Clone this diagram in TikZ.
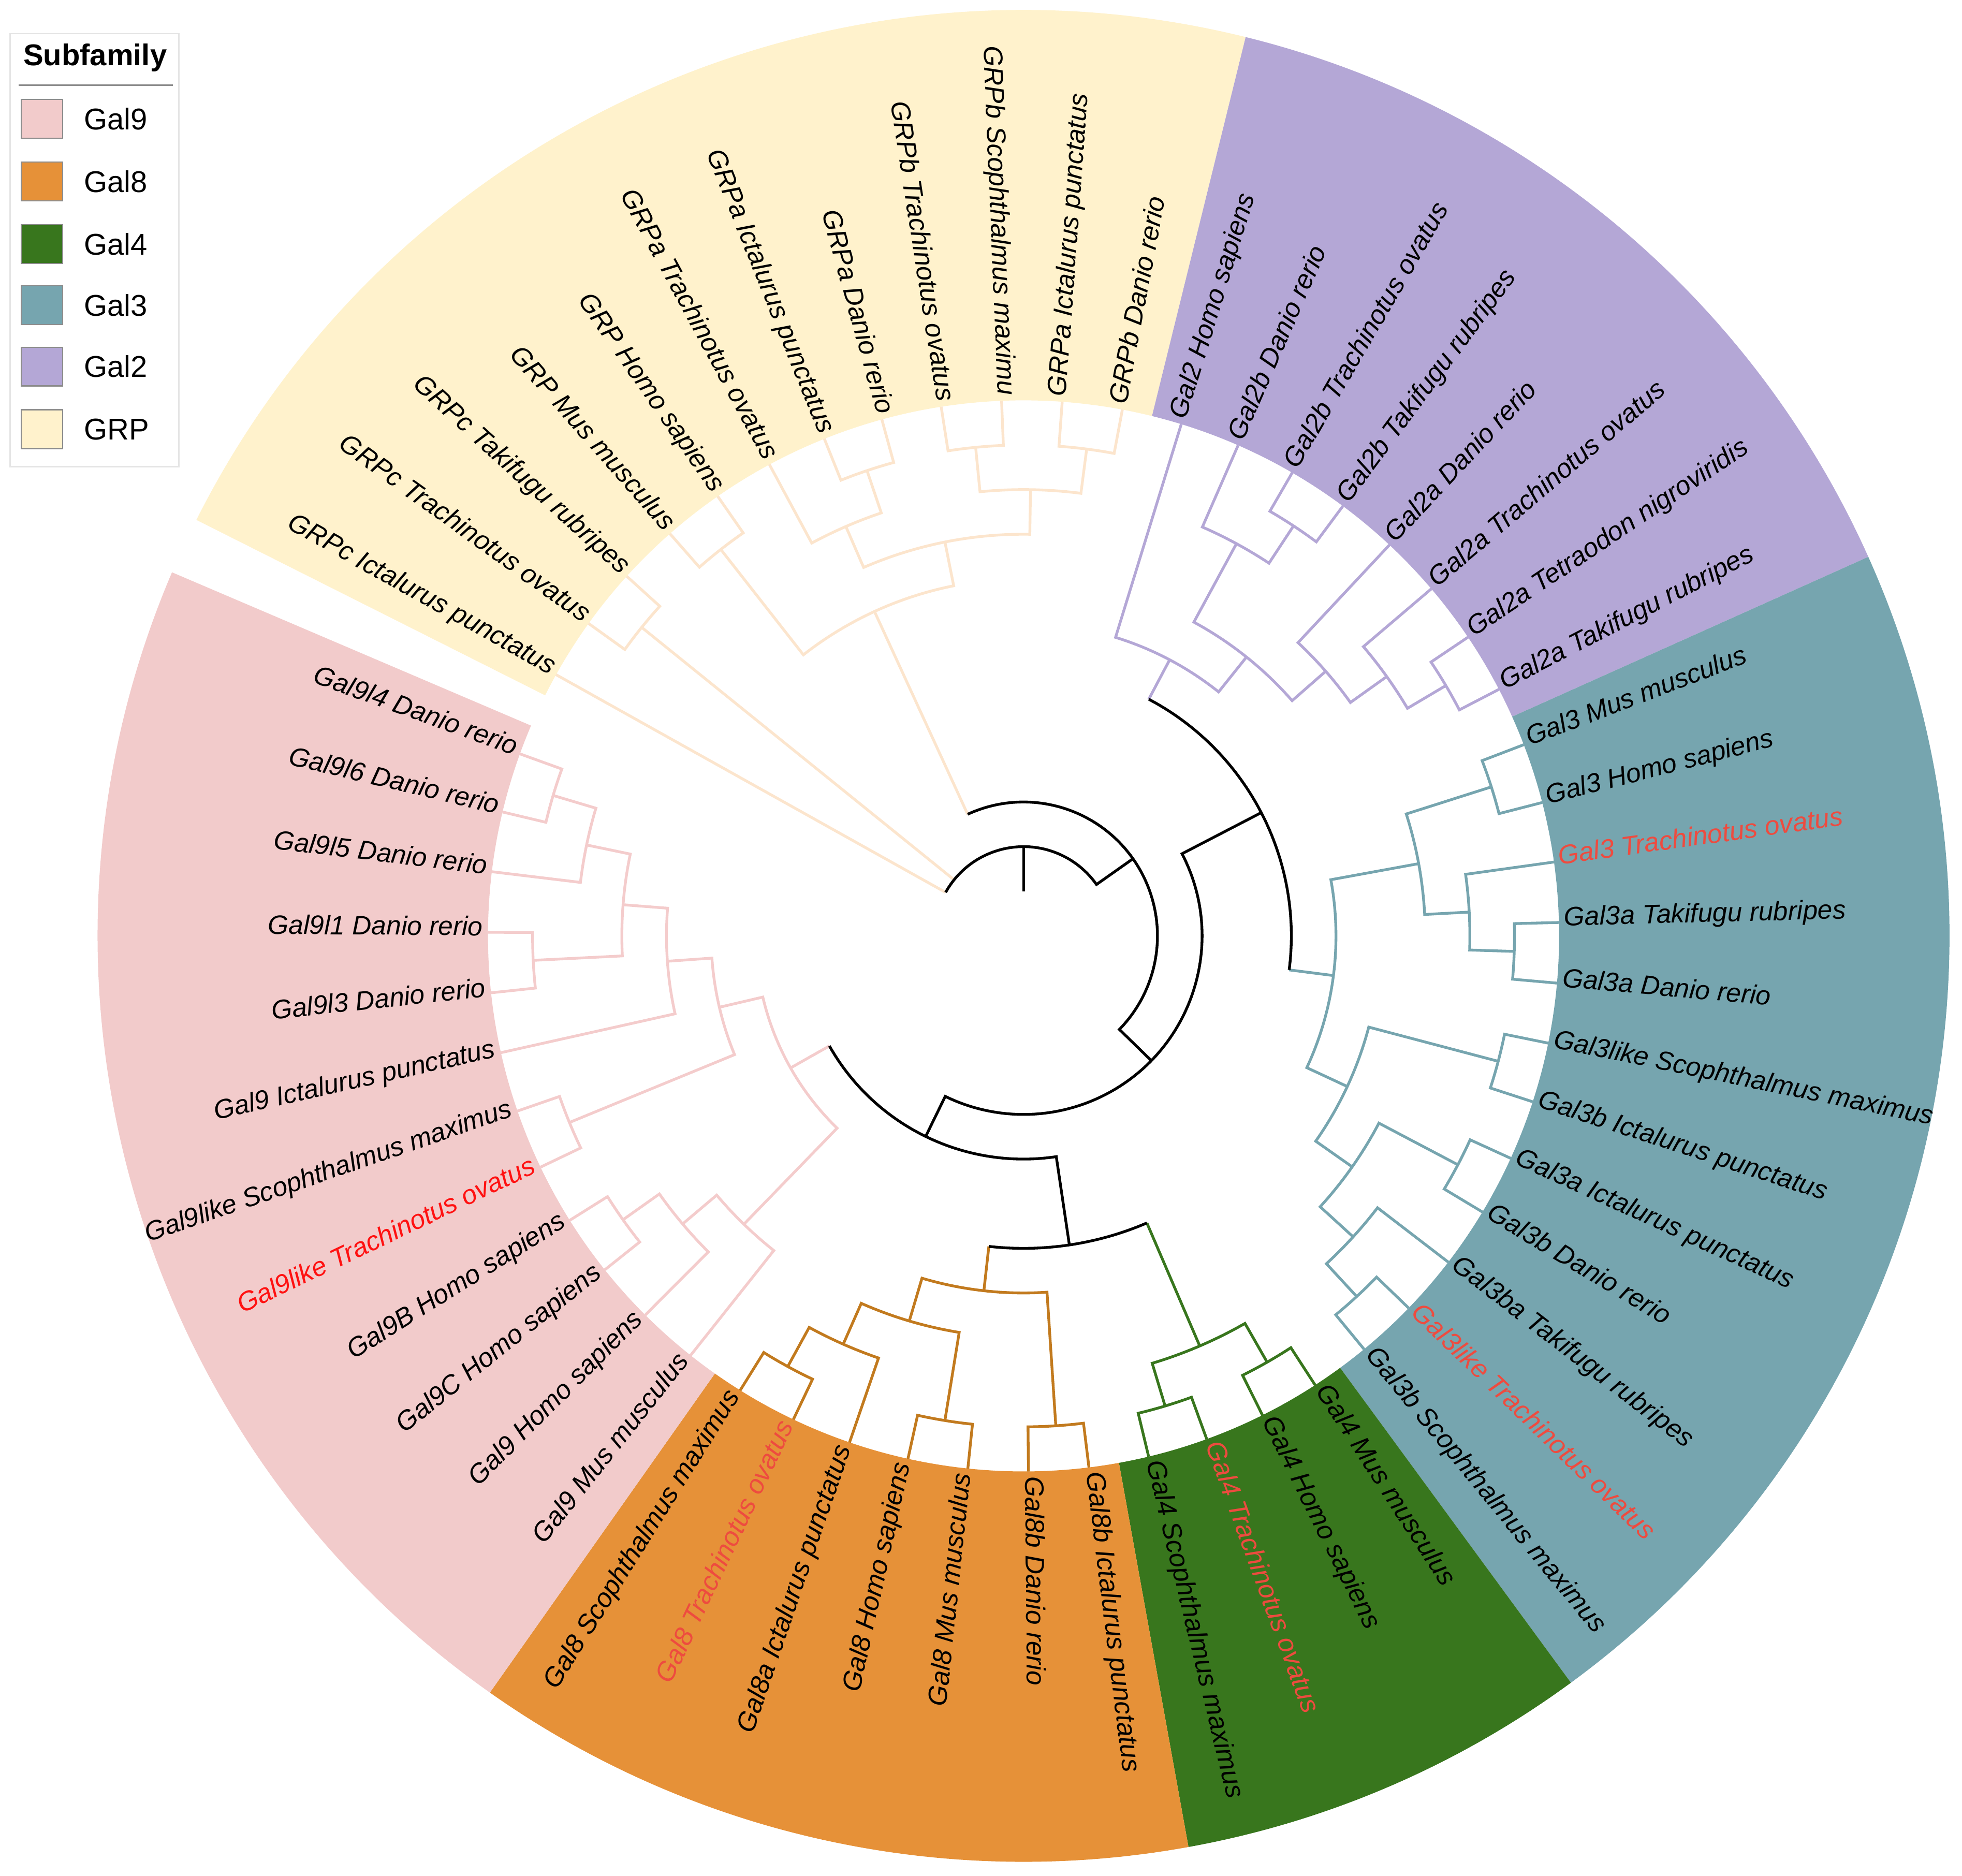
\documentclass[tikz,border=0pt]{standalone}
\usepackage{fontspec}
\setmainfont{Liberation Sans}
\definecolor{cGRP}{HTML}{FFF2CC}
\definecolor{cGalii}{HTML}{B4A7D6}
\definecolor{cGaliii}{HTML}{76A5AF}
\definecolor{cGaliv}{HTML}{38761D}
\definecolor{cGalviii}{HTML}{E69138}
\definecolor{cGalix}{HTML}{F2CBCB}
\definecolor{gb}{HTML}{FCE5CD}
\definecolor{pb}{HTML}{B4A7D6}
\definecolor{tb}{HTML}{76A5AF}
\definecolor{kb}{HTML}{38761D}
\definecolor{ob}{HTML}{C27A1E}
\definecolor{rb}{HTML}{F4CCCC}
\definecolor{redA}{HTML}{FF1111}
\definecolor{redB}{HTML}{EE4B3F}
\def\U{35.67}
\tikzset{
  br/.style={line width=2.2pt},
  lbl/.style={font=\itshape\fontsize{21.3}{25}\selectfont, inner sep=0pt},
  lg/.style={font=\fontsize{24}{28}\selectfont, inner sep=0pt, anchor=west},
  swatch/.style={rectangle, draw=black!45, line width=1pt, minimum width=33pt, minimum height=31pt, inner sep=0pt}
}
\newcommand\sector[3]{\fill[#1] (#2:428pt) arc[start angle=#2,end angle=#3,radius=428pt] -- (#3:740pt) arc[start angle=#3,end angle=#2,radius=740pt] -- cycle;}
\newcommand\nd[6]{%
  \pgfmathsetlengthmacro\rA{#3*\U}%
  \pgfmathsetlengthmacro\rN{#6*\U}%
  \pgfmathsetlengthmacro\rB{#5*\U}%
  \draw[br,#1] (#2:\rA) -- (#2:\rN) arc[start angle=#2,end angle=#4,radius=\rN] -- (#4:\rB);}
\newcommand\rad[4]{%
  \pgfmathsetlengthmacro\rA{#3*\U}%
  \pgfmathsetlengthmacro\rB{#4*\U}%
  \draw[br,#1] (#2:\rA) -- (#2:\rB);}
\newcommand\labR[4][black]{\node[lbl,text=#1,anchor=mid west,rotate=#3] (#2) at (#3:432pt) {#4};}
\newcommand\labL[4][black]{\node[lbl,text=#1,anchor=mid east,rotate=#3+180] (#2) at (#3:432pt) {#4};}
\newcommand\legitem[4]{%
  \node[swatch,fill=#2] (#4) at (-784.5,#1) {};
  \node[lg] (#4t) at (-751,#1) {#3};}
\begin{document}
\begin{tikzpicture}[x=1pt,y=1pt]
\useasboundingbox (-818,-751) rectangle (750,748);
\fill[white] (-818,-751) rectangle (750,748);
% sectors
\sector{cGRP}{153.3}{76.119}
\sector{cGalii}{76.119}{24.167}
\sector{cGaliii}{24.167}{-53.761}
\sector{cGaliv}{-53.761}{-79.737}
\sector{cGalviii}{-79.737}{-125.195}
\sector{cGalix}{-125.195}{-203.123}
% GRP clade
\rad{gb}{150.8}{2}{12}
\rad{gb}{141.059}{2}{11}
\rad{gb}{114.677}{3}{8}
\nd{gb}{144.306}{12}{137.812}{12}{11}
\nd{gb}{131.318}{12}{124.824}{12}{11}
\nd{gb}{111.836}{12}{105.342}{12}{11}
\nd{gb}{118.33}{12}{108.589}{11}{10}
\nd{gb}{98.848}{12}{92.354}{12}{11}
\nd{gb}{85.86}{12}{79.366}{12}{11}
\nd{gb}{95.601}{11}{82.613}{11}{10}
\nd{gb}{113.4595}{10}{89.107}{10}{9}
\nd{gb}{128.071}{11}{101.283}{9}{8}
% Gal2 clade
\rad{pb}{62.1165}{6}{7}
\nd{pb}{59.884}{12}{53.39}{12}{11}
\nd{pb}{66.378}{12}{56.637}{11}{10}
\nd{pb}{33.908}{12}{27.414}{12}{11}
\nd{pb}{40.402}{12}{30.661}{11}{10}
\nd{pb}{46.896}{12}{35.5315}{10}{9}
\nd{pb}{61.5075}{10}{41.214}{9}{8}
\nd{pb}{72.872}{12}{51.361}{8}{7}
% Gal3 clade
\rad{tb}{-7.2885}{6}{7}
\nd{tb}{20.92}{12}{14.426}{12}{11}
\nd{tb}{1.438}{12}{-5.056}{12}{11}
\nd{tb}{7.932}{12}{-1.809}{11}{10}
\nd{tb}{17.673}{11}{3.0615}{10}{9}
\nd{tb}{-11.55}{12}{-18.044}{12}{11}
\nd{tb}{-24.538}{12}{-31.032}{12}{11}
\nd{tb}{-44.02}{12}{-50.514}{12}{11}
\nd{tb}{-37.526}{12}{-47.267}{11}{10}
\nd{tb}{-27.785}{11}{-42.3965}{10}{9}
\nd{tb}{-14.797}{11}{-35.091}{9}{8}
\nd{tb}{10.367}{9}{-24.944}{8}{7}
% Gal4 clade
\rad{kb}{-66.749}{7}{10}
\nd{kb}{-57.008}{12}{-63.502}{12}{11}
\nd{kb}{-69.996}{12}{-76.49}{12}{11}
\nd{kb}{-60.255}{11}{-73.243}{11}{10}
% Gal8 clade
\rad{ob}{-96.378}{7}{8}
\nd{ob}{-82.984}{12}{-89.478}{12}{11}
\nd{ob}{-95.972}{12}{-102.466}{12}{11}
\nd{ob}{-115.454}{12}{-121.948}{12}{11}
\nd{ob}{-108.96}{12}{-118.701}{11}{10}
\nd{ob}{-99.219}{11}{-113.8305}{10}{9}
\nd{ob}{-86.231}{11}{-106.525}{9}{8}
% Gal9 clade
\rad{rb}{-150.4605}{5}{6}
\nd{rb}{-141.43}{12}{-147.924}{12}{11}
\nd{rb}{-134.936}{12}{-144.677}{11}{10}
\nd{rb}{-128.442}{12}{-139.8065}{10}{9}
\nd{rb}{-154.418}{12}{-160.912}{12}{11}
\nd{rb}{-173.9}{12}{-180.394}{12}{11}
\nd{rb}{-193.382}{12}{-199.876}{12}{11}
\nd{rb}{-186.888}{12}{-196.629}{11}{10}
\nd{rb}{-191.7585}{10}{-177.147}{11}{9}
\nd{rb}{-167.406}{12}{-184.45275}{9}{8}
\nd{rb}{-157.665}{11}{-175.929}{8}{7}
\nd{rb}{-134.124}{9}{-166.797}{7}{6}
% backbone
\draw[br,black] (90:35.67pt) -- (90:71.34pt);
\draw[br,black] (150.8:71.34pt) arc[start angle=150.8,end angle=35.189,radius=71.34pt] -- (35.189:107.01pt);
\draw[br,black] (114.677:107.01pt) arc[start angle=114.677,end angle=-44.299,radius=107.01pt] -- (-44.299:142.68pt);
\draw[br,black] (27.414:214.02pt) -- (27.414:142.68pt) arc[start angle=27.414,end angle=-116.012,radius=142.68pt] -- (-116.012:178.35pt);
\draw[br,black] (62.1165:214.02pt) arc[start angle=62.1165,end angle=-7.2885,radius=214.02pt];
\draw[br,black] (-150.4605:178.35pt) arc[start angle=-150.4605,end angle=-81.5635,radius=178.35pt] -- (-81.5635:249.69pt);
\draw[br,black] (-96.378:249.69pt) arc[start angle=-96.378,end angle=-66.749,radius=249.69pt];
% labels
\labL{l0}{150.8}{GRPc Ictalurus punctatus}
\labL{l1}{144.306}{GRPc Trachinotus ovatus}
\labL{l2}{137.812}{GRPc Takifugu rubripes}
\labL{l3}{131.318}{GRP Mus musculus}
\labL{l4}{124.824}{GRP Homo sapiens}
\labL{l5}{118.33}{GRPa Trachinotus ovatus}
\labL{l6}{111.836}{GRPa Ictalurus punctatus}
\labL{l7}{105.342}{GRPa Danio rerio}
\labL{l8}{98.848}{GRPb Trachinotus ovatus}
\labL{l9}{92.354}{GRPb Scophthalmus maximu}
\labR{l10}{85.86}{GRPa Ictalurus punctatus}
\labR{l11}{79.366}{GRPb Danio rerio}
\labR{l12}{72.872}{Gal2 Homo sapiens}
\labR{l13}{66.378}{Gal2b Danio rerio}
\labR{l14}{59.884}{Gal2b Trachinotus ovatus}
\labR{l15}{53.39}{Gal2b Takifugu rubripes}
\labR{l16}{46.896}{Gal2a Danio rerio}
\labR{l17}{40.402}{Gal2a Trachinotus ovatus}
\labR{l18}{33.908}{Gal2a Tetraodon nigroviridis}
\labR{l19}{27.414}{Gal2a Takifugu rubripes}
\labR{l20}{20.92}{Gal3 Mus musculus}
\labR{l21}{14.426}{Gal3 Homo sapiens}
\labR[redB]{l22}{7.932}{Gal3 Trachinotus ovatus}
\labR{l23}{1.438}{Gal3a Takifugu rubripes}
\labR{l24}{-5.056}{Gal3a Danio rerio}
\labR{l25}{-11.55}{Gal3like Scophthalmus maximus}
\labR{l26}{-18.044}{Gal3b Ictalurus punctatus}
\labR{l27}{-24.538}{Gal3a Ictalurus punctatus}
\labR{l28}{-31.032}{Gal3b Danio rerio}
\labR{l29}{-37.526}{Gal3ba Takifugu rubripes}
\labR[redB]{l30}{-44.02}{Gal3like Trachinotus ovatus}
\labR{l31}{-50.514}{Gal3b Scophthalmus maximus}
\labR{l32}{-57.008}{Gal4 Mus musculus}
\labR{l33}{-63.502}{Gal4 Homo sapiens}
\labR[redB]{l34}{-69.996}{Gal4 Trachinotus ovatus}
\labR{l35}{-76.49}{Gal4 Scophthalmus maximus}
\labR{l36}{-82.984}{Gal8b Ictalurus punctatus}
\labR{l37}{-89.478}{Gal8b Danio rerio}
\labL{l38}{-95.972}{Gal8 Mus musculus}
\labL{l39}{-102.466}{Gal8 Homo sapiens}
\labL{l40}{-108.96}{Gal8a Ictalurus punctatus}
\labL[redB]{l41}{-115.454}{Gal8 Trachinotus ovatus}
\labL{l42}{-121.948}{Gal8 Scophthalmus maximus}
\labL{l43}{-128.442}{Gal9 Mus musculus}
\labL{l44}{-134.936}{Gal9 Homo sapiens}
\labL{l45}{-141.43}{Gal9C Homo sapiens}
\labL{l46}{-147.924}{Gal9B Homo sapiens}
\labL[redA]{l47}{-154.418}{Gal9like Trachinotus ovatus}
\labL{l48}{-160.912}{Gal9like Scophthalmus maximus}
\labL{l49}{-167.406}{Gal9 Ictalurus punctatus}
\labL{l50}{-173.9}{Gal9l3 Danio rerio}
\labL{l51}{-180.394}{Gal9l1 Danio rerio}
\labL{l52}{-186.888}{Gal9l5 Danio rerio}
\labL{l53}{-193.382}{Gal9l6 Danio rerio}
\labL{l54}{-199.876}{Gal9l4 Danio rerio}
% legend
\draw[black!10, fill=white, line width=1pt] (-810,721) rectangle (-675,375);
\node[font=\bfseries\fontsize{24}{28}\selectfont, inner sep=0pt] (legtitle) at (-742,702) {Subfamily};
\draw[black!45, line width=1.2pt] (-803,680) -- (-680,680);
\legitem{653}{cGalix}{Gal9}{sa}
\legitem{603}{cGalviii}{Gal8}{sb}
\legitem{553}{cGaliv}{Gal4}{sc}
\legitem{504}{cGaliii}{Gal3}{sd}
\legitem{455}{cGalii}{Gal2}{se}
\legitem{405}{cGRP}{GRP}{sf}
\end{tikzpicture}
\end{document}
